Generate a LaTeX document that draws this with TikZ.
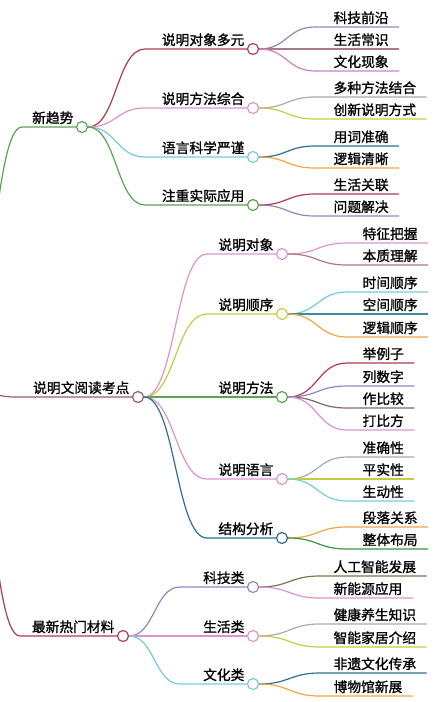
\documentclass[tikz,border=0pt]{standalone}
\usepackage{fontspec}
\setmainfont{Noto Sans CJK SC}[FakeBold=1.2]
\usetikzlibrary{calc}
\definecolor{cRed}{HTML}{B03A4E}
\definecolor{cPink}{HTML}{DC94CC}
\definecolor{cPinkB}{HTML}{C884C0}
\definecolor{cCyan}{HTML}{76CCD6}
\definecolor{cGreen}{HTML}{5AA352}
\definecolor{cGreenD}{HTML}{3C9444}
\definecolor{cLime}{HTML}{C4CC44}
\definecolor{cTeal}{HTML}{2E6E8E}
\definecolor{cTealB}{HTML}{3C8CA0}
\definecolor{cPurple}{HTML}{9486BC}
\definecolor{cOrange}{HTML}{F0A646}
\definecolor{cGray}{HTML}{ABABAB}
\definecolor{cRose}{HTML}{A87A88}
\definecolor{cMauve}{HTML}{806474}
\definecolor{cOlive}{HTML}{7C7254}
\definecolor{cRoot}{HTML}{9C5A68}

\begin{document}
\begin{tikzpicture}[x=1pt,y=-1pt,line width=1.2pt]
  \tikzstyle{hub}=[circle,draw,fill=white,inner sep=0pt,minimum size=11pt]
  \tikzstyle{lbl}=[inner sep=0pt,font=\fontsize{13.75}{16}\selectfont]
  \tikzstyle{link}=[to path={let \p1=(\tikztostart),\p2=(\tikztotarget) in
    .. controls ({0.5*\x1+0.5*\x2},\y1) and ({0.5*\x1+0.5*\x2},\y2) .. (\tikztotarget)}]
  \useasboundingbox (0,0) rectangle (444,702);
  \clip (0,0) rectangle (444,702);
  \node[inner sep=0pt] (root) at (-40,385) {};
  % topics and subtopics
  \foreach \up/\id/\xs/\xc/\yy/\col/\txt in {
      root/n1/22/82/127/cGreen/新趋势,
      root/n2/15/138/397/cRoot/说明文阅读考点,
      root/n3/20/123/636/cRed/最新热门材料,
      n1/a1/145/253/49/cRed/说明对象多元,
      n1/a2/145/253/108/cPink/说明方法综合,
      n1/a3/145/253/157/cCyan/语言科学严谨,
      n1/a4/145/253/205/cGreen/注重实际应用,
      n2/b1/207/282/254/cPink/说明对象,
      n2/b2/207/282/314/cLime/说明顺序,
      n2/b3/207/282/397/cGreen/说明方法,
      n2/b4/207/282/479/cPink/说明语言,
      n2/b5/207/282/538/cTeal/结构分析,
      n3/c1/180/253/587/cPurple/科技类,
      n3/c2/180/253/636/cPink/生活类,
      n3/c3/180/253/684/cCyan/文化类}{
    \coordinate (\id s) at (\xs,\yy);
    \draw[\col] (\up.east) to[link] (\id s) -- (\xc,\yy);
    \node[hub,draw=\col] (\id) at (\xc,\yy) {};
    \node[lbl,anchor=base east] (\id t) at ([xshift=-8pt,yshift=4pt]\id.center) {\txt};
  }
  % leaves
  \foreach \up/\id/\xs/\xt/\yy/\col/\txt in {
      a1/l1/315/333/27/cPurple/科技前沿,
      a1/l2/315/333/49/cRose/生活常识,
      a1/l3/315/333/71/cPinkB/文化现象,
      a2/l4/315/333/97/cGray/多种方法结合,
      a2/l5/315/333/119/cLime/创新说明方式,
      a3/l6/315/333/146/cTeal/用词准确,
      a3/l7/315/333/168/cOrange/逻辑清晰,
      a4/l8/315/333/194/cRed/生活关联,
      a4/l9/315/333/216/cPurple/问题解决,
      b1/m1/347/362/243/cPink/特征把握,
      b1/m2/347/362/265/cRose/本质理解,
      b2/m3/347/362/292/cCyan/时间顺序,
      b2/m4/347/362/314/cTealB/空间顺序,
      b2/m5/347/362/337/cOrange/逻辑顺序,
      b3/m6/347/362/363/cRed/举例子,
      b3/m7/347/362/386/cPurple/列数字,
      b3/m8/347/362/408/cMauve/作比较,
      b3/m9/347/362/430/cPink/打比方,
      b4/m10/347/362/457/cGray/准确性,
      b4/m11/347/362/479/cLime/平实性,
      b4/m12/347/362/501/cCyan/生动性,
      b5/m13/347/362/527/cOrange/段落关系,
      b5/m14/347/362/549/cGreenD/整体布局,
      c1/k1/320/333/576/cOlive/人工智能发展,
      c1/k2/320/333/598/cPink/新能源应用,
      c2/k3/320/333/624/cGray/健康养生知识,
      c2/k4/320/333/647/cLime/智能家居介绍,
      c3/k5/320/333/673/cTeal/非遗文化传承,
      c3/k6/320/333/696/cOrange/博物馆新展}{
    \coordinate (\id) at (\xs,\yy);
    \node[lbl,anchor=base west] (\id t) at (\xt,{\yy-4}) {\txt};
    \draw[\col] (\up.east) to[link] (\id) -- ($(\id t.east |- \id)+(10,0)$);
  }
\end{tikzpicture}
\end{document}
